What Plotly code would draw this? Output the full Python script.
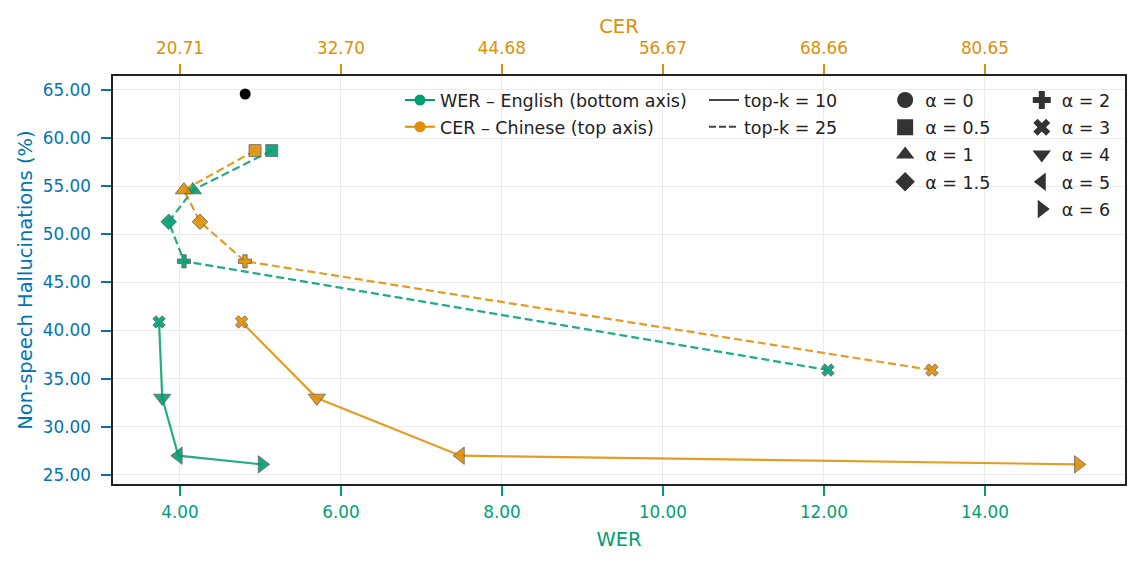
import plotly.graph_objects as go

# ---- data ----
alpha_labels = ["α = 0", "α = 0.5", "α = 1", "α = 1.5", "α = 2", "α = 3", "α = 4", "α = 5", "α = 6"]
alpha_symbols = ["circle", "square", "triangle-up", "diamond", "cross", "x",
                 "triangle-down", "triangle-left", "triangle-right"]

# baseline (alpha = 0)
base_wer = [4.81]
base_hall = [64.58]

# top-k = 25 (dashed), alphas 0.5, 1, 1.5, 2, 3
k25_alpha_idx = [1, 2, 3, 4, 5]
k25_wer = [5.14, 4.16, 3.86, 4.05, 12.05]
k25_cer = [26.3, 21.0, 22.2, 25.55, 76.7]
k25_hall = [58.7, 54.6, 51.3, 47.2, 35.9]

# top-k = 10 (solid), alphas 3, 4, 5, 6
k10_alpha_idx = [5, 6, 7, 8]
k10_wer = [3.74, 3.78, 3.98, 5.02]
k10_cer = [25.3, 30.9, 41.6, 87.6]
k10_hall = [40.9, 33.0, 27.0, 26.1]

wer_ticks = [4, 6, 8, 10, 12, 14]
cer_ticks = [20.71, 32.70, 44.68, 56.67, 68.66, 80.65]
y_ticks = [25, 30, 35, 40, 45, 50, 55, 60, 65]

GREEN = "#029E73"
ORANGE = "#DE8F05"
GREEN_LINE = "rgba(2,158,115,0.87)"
ORANGE_LINE = "rgba(222,143,5,0.87)"
BLUE = "#0173B2"
GRAY = "#333333"
FONT = "DejaVu Sans"

symbol_size = {"circle": 11, "square": 12, "triangle-up": 15, "diamond": 12, "cross": 11,
               "x": 11, "triangle-down": 15, "triangle-left": 15, "triangle-right": 15}
legend_size = {"circle": 16, "square": 16, "triangle-up": 20, "diamond": 15, "cross": 15,
               "x": 15, "triangle-down": 20, "triangle-left": 20, "triangle-right": 20}

wer_range = [3.168, 15.74]
def wer_to_cer(w):
    return 20.71 + (w - 4) * (80.65 - 20.71) / 10.0
cer_range = [wer_to_cer(wer_range[0]), wer_to_cer(wer_range[1])]

fig = go.Figure()

def add_series(x, y, idxs, color, lcolor, dash, xaxis):
    syms = [alpha_symbols[i] for i in idxs]
    fig.add_trace(go.Scatter(
        x=x, y=y, xaxis=xaxis, mode="lines+markers",
        line=dict(color=lcolor, width=2.2, dash=dash),
        marker=dict(symbol=syms, size=[symbol_size[s] for s in syms], color=color,
                    opacity=0.9, line=dict(color="#555555", width=0.8)),
        showlegend=False, hoverinfo="x+y"))

add_series(k25_wer, k25_hall, k25_alpha_idx, GREEN, GREEN_LINE, "8px,4px", "x")
add_series(k25_cer, k25_hall, k25_alpha_idx, ORANGE, ORANGE_LINE, "8px,4px", "x2")
add_series(k10_wer, k10_hall, k10_alpha_idx, GREEN, GREEN_LINE, "solid", "x")
add_series(k10_cer, k10_hall, k10_alpha_idx, ORANGE, ORANGE_LINE, "solid", "x2")

fig.add_trace(go.Scatter(x=base_wer, y=base_hall, mode="markers",
                         marker=dict(symbol="circle", size=11, color="black"),
                         showlegend=False))

# ---- legends ----
fig.add_trace(go.Scatter(x=[None], y=[None], mode="lines+markers", name="WER – English (bottom axis)",
                         line=dict(color=GREEN, width=2), marker=dict(color=GREEN, size=11),
                         legend="legend", legendgroup="g_wer"))
fig.add_trace(go.Scatter(x=[None], y=[None], mode="lines+markers", name="CER – Chinese (top axis)",
                         line=dict(color=ORANGE, width=2), marker=dict(color=ORANGE, size=11),
                         legend="legend", legendgroup="g_cer"))
fig.add_trace(go.Scatter(x=[None], y=[None], mode="lines", name="top-k = 10",
                         line=dict(color="#444444", width=2), legend="legend2", legendgroup="g_k10"))
fig.add_trace(go.Scatter(x=[None], y=[None], mode="lines", name="top-k = 25",
                         line=dict(color="#444444", width=2, dash="7px,3px"), legend="legend2",
                         legendgroup="g_k25"))
for i, (lab, sym) in enumerate(zip(alpha_labels, alpha_symbols)):
    fig.add_trace(go.Scatter(x=[None], y=[None], mode="markers", name=lab,
                             marker=dict(symbol=sym, size=legend_size[sym], color=GRAY),
                             legend="legend3" if i < 4 else "legend4", legendgroup=f"g_a{i}"))

leg_common = dict(bgcolor="rgba(0,0,0,0)", font=dict(family=FONT, size=17.5, color="#222222"),
                  yanchor="top", xanchor="left")
fig.update_layout(
    legend=dict(x=0.2836, y=0.985, tracegroupgap=1, **leg_common),
    legend2=dict(x=0.584, y=0.985, tracegroupgap=1, **leg_common),
    legend3=dict(x=0.763, y=0.985, tracegroupgap=1.5, **leg_common),
    legend4=dict(x=0.898, y=0.985, tracegroupgap=1.5, **leg_common),
)

axis_common = dict(showline=True, linecolor="#222222", linewidth=1.6, ticks="outside",
                   ticklen=10, tickwidth=1.5, zeroline=False)

fig.update_layout(
    width=1140, height=564,
    margin=dict(l=113, r=15, t=76, b=80),
    paper_bgcolor="white", plot_bgcolor="white",
    font=dict(family=FONT, size=16.8),
    xaxis=dict(range=wer_range, tickvals=wer_ticks, ticktext=[f"{v:.2f}" for v in wer_ticks],
               tickcolor=GREEN, tickfont=dict(color=GREEN, size=16.8, family=FONT),
               ticklabelstandoff=2,
               title=dict(text="WER", font=dict(color=GREEN, size=19.5, family=FONT), standoff=11),
               showgrid=True, gridcolor="#ebebeb", gridwidth=1, mirror=False, **axis_common),
    xaxis2=dict(range=cer_range, overlaying="x", side="top", anchor="y",
                tickvals=cer_ticks, ticktext=[f"{v:.2f}" for v in cer_ticks],
                tickcolor=ORANGE, tickfont=dict(color=ORANGE, size=16.8, family=FONT),
                ticklabelstandoff=3,
                title=dict(text="CER", font=dict(color=ORANGE, size=19.5, family=FONT), standoff=0),
                showgrid=False, **axis_common),
    yaxis=dict(range=[24.06, 66.45], tickvals=y_ticks, ticktext=[f"{v:.2f}" for v in y_ticks],
               tickcolor=BLUE, tickfont=dict(color=BLUE, size=16.8, family=FONT),
               ticklabelstandoff=7,
               title=dict(text="Non-speech Hallucinations (%)", font=dict(color=BLUE, size=19.5, family=FONT), standoff=5),
               showgrid=True, gridcolor="#ebebeb", gridwidth=1, mirror=True, **axis_common),
)

fig.write_html("out.html")
